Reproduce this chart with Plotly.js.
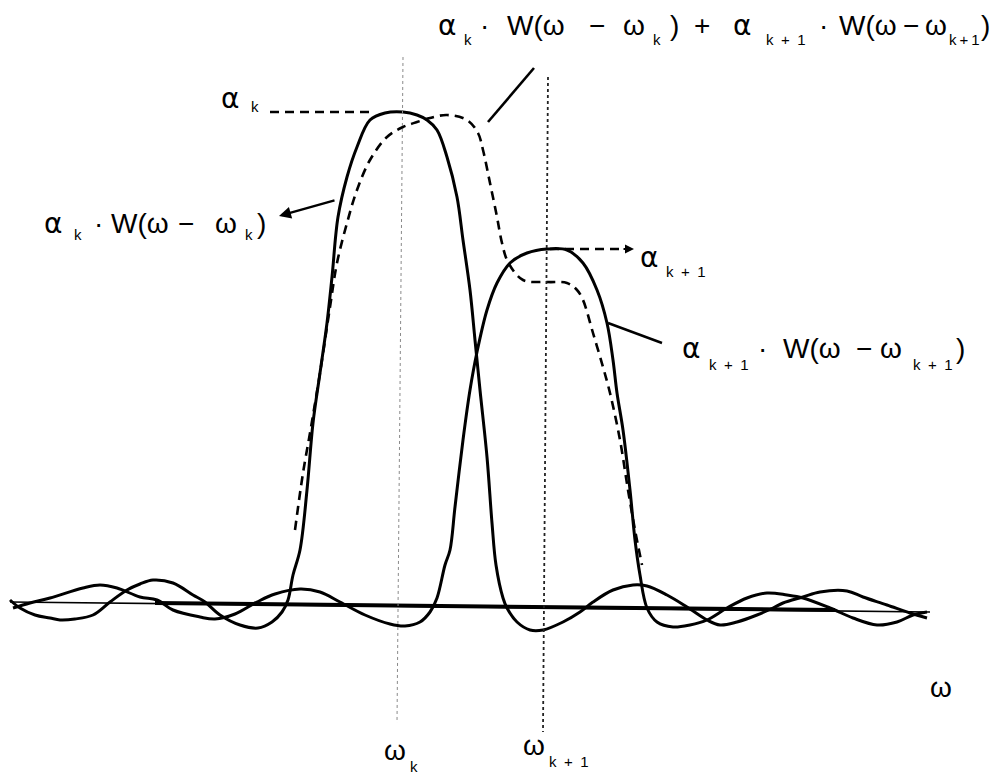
<!DOCTYPE html>
<html>
<head>
<meta charset="utf-8">
<script src="https://cdn.plot.ly/plotly-3.0.1.min.js"></script>
<style>
  html, body { margin: 0; padding: 0; background: #ffffff; }
  #plot { width: 995px; height: 775px; }
</style>
</head>
<body>
<div id="plot"></div>
<script>
// Frequency axis positions (omega) and amplitude levels of the two window peaks
const omegaK = 400;
const omegaK1 = 546;
const alphaK = 493;
const alphaK1 = 356;

// alpha_k * W(omega - omega_k): window centred on omega_k
const omega1 = [10,20,35,50,60,75,93,110,127,140,153,173,193,205,220,240,258,272,282,288,293,300,307,313,320,327,332,338,347,357,370,385,403,417,427,437,447,457,463,470,475,480,487,492,496,503,507,517,530,543,563,580,593,613,633,647,667,687,707,720,737,757,773,783,803,820,847,863,887,910,927];
const w1 = [5,-3,-10,-13,-15,-14,-10,3,15,21,25,22,10,3,-10,-20,-23,-17,-7,5,30,55,115,182,232,282,328,388,428,458,485,492,493,490,485,475,448,408,365,315,265,215,148,82,40,7,-3,-17,-25,-25,-17,-7,3,15,20,19,10,-2,-15,-20,-17,-10,-3,2,8,13,14,8,0,-8,-13];

// alpha_{k+1} * W(omega - omega_{k+1}): window centred on omega_{k+1}
const omega2 = [13,30,50,83,100,117,140,157,173,200,215,235,257,275,300,320,340,365,390,405,420,430,437,445,450,455,463,470,477,487,497,510,527,547,567,583,597,607,613,617,623,630,635,640,647,657,673,690,707,727,747,767,787,803,830,853,877,897,913,927];
const w2 = [-3,2,7,17,20,17,8,5,-5,-12,-14,-9,3,11,16,13,3,-10,-19,-21,-17,-7,7,40,55,98,165,215,253,295,322,342,352,356,355,342,315,282,245,212,175,115,65,30,-3,-17,-22,-20,-15,-3,7,12,10,7,-3,-13,-20,-17,-10,-7];

// Sum of the two weighted windows (dashed)
const omegaSum = [295,303,310,320,330,337,347,357,370,387,403,417,430,447,467,478,483,490,497,502,508,523,547,567,577,583,593,603,610,620,628,635,642];
const wSum = [75,132,172,232,298,342,382,415,445,468,478,483,487,490,485,472,455,422,388,362,343,325,323,322,315,305,272,238,212,165,115,75,40];

// Zero line: a thin full-length stroke and a heavier stroke over the middle part
const baseThinX = [10, 930];
const baseThinY = [3, -7];
const baseThickX = [155, 835];
const baseThickY = [2, -5];

const TOP = 605;            // amplitude value at the top edge of the plot
const amp = py => TOP - py; // helper for label placement in screen rows

const traces = [
  { x: baseThinX, y: baseThinY, mode: 'lines', line: { color: '#000', width: 1.6 }, hoverinfo: 'skip' },
  { x: baseThickX, y: baseThickY, mode: 'lines', line: { color: '#000', width: 4 }, hoverinfo: 'skip' },
  { x: omega1, y: w1, mode: 'lines', line: { color: '#000', width: 3, shape: 'spline', smoothing: 1 }, hoverinfo: 'skip' },
  { x: omega2, y: w2, mode: 'lines', line: { color: '#000', width: 3, shape: 'spline', smoothing: 1 }, hoverinfo: 'skip' },
  { x: omegaSum, y: wSum, mode: 'lines', line: { color: '#000', width: 2.6, dash: '9px,6px', shape: 'spline', smoothing: 1 }, hoverinfo: 'skip' }
];

const FONT = '"Liberation Sans", Arial, Helvetica, sans-serif';
const GREEK = '"DejaVu Sans", "Liberation Sans", sans-serif';
const MAIN = 28, SUB = 15;

// Text token placed by its left edge and baseline row
function tok(text, left, baseline, size, family) {
  return {
    text: text, x: left, y: amp(baseline - 0.35 * size),
    xref: 'x', yref: 'y', xanchor: 'left', yanchor: 'middle',
    showarrow: false, borderpad: 0,
    font: { family: family || FONT, size: size, color: '#000' }
  };
}
const alpha = (left, baseline) => tok('α', left, baseline, MAIN, GREEK);
const SUB_K1 = 'k\u2002+\u20021';
const SUB_K1_TIGHT = 'k\u2009+\u20091';

const annotations = [
  // alpha_k * W(omega - omega_k) + alpha_{k+1} * W(omega - omega_{k+1})
  alpha(437, 35), tok('k', 463, 45, SUB), tok('·', 479, 35, MAIN),
  tok('W(ω', 506, 35, MAIN), tok('−', 588, 35, MAIN), tok('ω', 622, 35, MAIN),
  tok('k', 652, 45, SUB), tok(')', 669, 35, MAIN), tok('+', 693, 35, MAIN),
  alpha(732, 35), tok(SUB_K1, 765, 45, SUB), tok('·', 818, 35, MAIN),
  tok('W(ω', 838, 35, MAIN), tok('−', 902, 35, MAIN), tok('ω', 924, 35, MAIN),
  tok(SUB_K1_TIGHT, 948, 45, SUB), tok(')', 980, 35, MAIN),

  // alpha_k level
  alpha(220, 108), tok('k', 250, 112, SUB),

  // alpha_k * W(omega - omega_k)
  alpha(43, 233), tok('k', 73, 240, SUB), tok('·', 93, 233, MAIN),
  tok('W(ω', 110, 233, MAIN), tok('−', 177, 233, MAIN), tok('ω', 214, 233, MAIN),
  tok('k', 244, 240, SUB), tok(')', 256, 233, MAIN),

  // alpha_{k+1} level
  alpha(639, 267), tok(SUB_K1, 665, 277, SUB),

  // alpha_{k+1} * W(omega - omega_{k+1})
  alpha(681, 358), tok(SUB_K1, 708, 370, SUB), tok('·', 757, 358, MAIN),
  tok('W(ω', 782, 358, MAIN), tok('−', 855, 358, MAIN), tok('ω', 879, 358, MAIN),
  tok(SUB_K1, 912, 370, SUB), tok(')', 955, 358, MAIN),

  // axis labels
  tok('ω', 929, 697, MAIN),
  tok('ω', 383, 760, MAIN), tok('k', 409, 772, SUB),
  tok('ω', 522, 755, MAIN), tok(SUB_K1, 548, 767, SUB),

  // arrow from the alpha_k * W label towards its curve
  { x: 279, y: amp(216), ax: 57, ay: -16, xref: 'x', yref: 'y',
    showarrow: true, arrowhead: 2, arrowsize: 1, arrowwidth: 2.4, arrowcolor: '#000', text: '' },
  // arrowhead at the end of the alpha_{k+1} level line (tail on the left)
  { x: 634, y: alphaK1, ax: -12, ay: 0, xref: 'x', yref: 'y',
    showarrow: true, arrowhead: 2, arrowsize: 0.9, arrowwidth: 2, arrowcolor: '#000', text: '' }
];

const shapes = [
  // omega_k and omega_{k+1} markers
  { type: 'line', xref: 'x', yref: 'y', x0: omegaK + 3, x1: omegaK - 3, y0: amp(57), y1: amp(723),
    line: { color: '#8a8a8a', width: 1, dash: 'dot' } },
  { type: 'line', xref: 'x', yref: 'y', x0: omegaK1 + 2, x1: omegaK1 - 3, y0: amp(77), y1: amp(732),
    line: { color: '#222', width: 1.8, dash: 'dot' } },
  // dashed level lines for alpha_k and alpha_{k+1}
  { type: 'line', xref: 'x', yref: 'y', x0: 270, x1: 372, y0: alphaK, y1: alphaK,
    line: { color: '#000', width: 2.4, dash: '9px,6px' } },
  { type: 'line', xref: 'x', yref: 'y', x0: omegaK1 + 4, x1: 626, y0: alphaK1, y1: alphaK1,
    line: { color: '#000', width: 2.4, dash: '9px,6px' } },
  // leader line to the summed curve
  { type: 'line', xref: 'x', yref: 'y', x0: 534, x1: 488, y0: amp(68), y1: amp(122),
    line: { color: '#000', width: 2.6 } },
  // leader line to the alpha_{k+1} window
  { type: 'line', xref: 'x', yref: 'y', x0: 608, x1: 662, y0: amp(323), y1: amp(343),
    line: { color: '#000', width: 2.4 } }
];

const layout = {
  width: 995, height: 775,
  margin: { l: 0, r: 0, t: 0, b: 0, pad: 0 },
  paper_bgcolor: '#ffffff', plot_bgcolor: '#ffffff',
  showlegend: false,
  xaxis: { range: [0, 995], visible: false, fixedrange: true },
  yaxis: { range: [amp(775), amp(0)], visible: false, fixedrange: true },
  annotations: annotations,
  shapes: shapes
};

Plotly.newPlot('plot', traces, layout, { staticPlot: true, displayModeBar: false });
</script>
</body>
</html>
